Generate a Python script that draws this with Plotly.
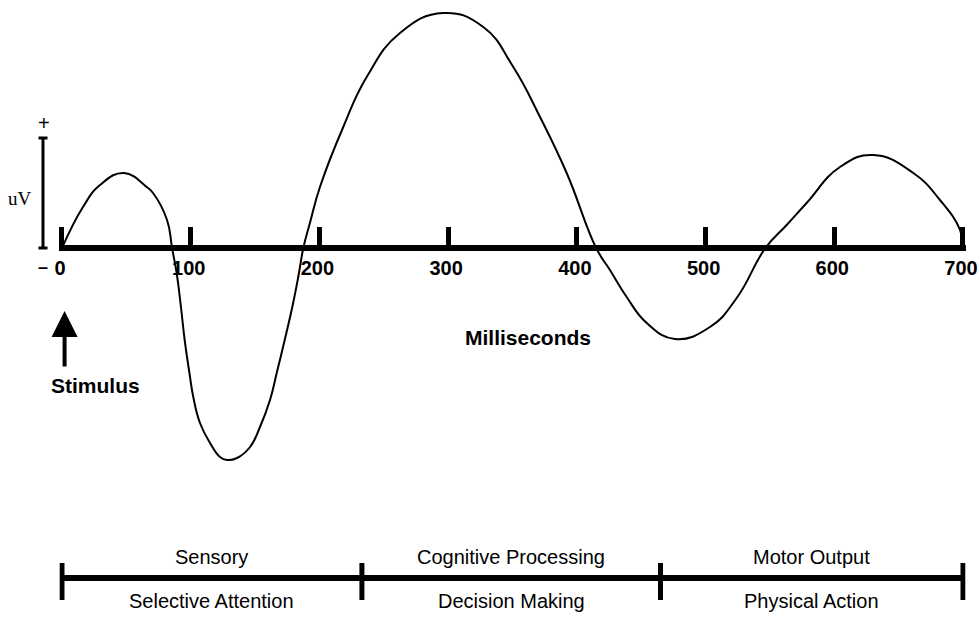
import plotly.graph_objects as go

# ---- data ----
time_ms = [0, 16.3, 29.5, 48.2, 65.8, 70.7, 81.6, 85.5, 89.3, 92.4, 95.5, 98.9, 102.0, 107.2,
           115.0, 122.7, 128.2, 136.0, 146.1, 153.8, 161.6, 167.0, 173.2, 179.1, 183.7, 187.5,
           192.6, 200.4, 218.5, 236.7, 262.6, 296.2, 327.3, 350.6, 371.4, 392.1, 415.0,
           425.7, 438.7, 454.3, 476.2, 503.4, 524.2, 546.5, 563.0, 578.5, 604.4, 630.3,
           661.4, 682.1, 697.7, 700]
amplitude = [0, 4.1, 6.3, 7.5, 6.1, 5.5, 2.8, 0, -2.7, -5.9, -9.4, -12.4, -14.9, -17.5,
             -19.5, -20.9, -21.2, -21.0, -19.9, -17.9, -15.2, -12.4, -9.1, -5.8, -2.8, 0,
             2.5, 6.1, 12.1, 17.1, 21.5, 23.5, 22.1, 18.1, 13.1, 7.5, 0,
             -2.2, -4.9, -7.5, -9.1, -7.9, -5.0, 0, 2.3, 4.5, 8.1, 9.3,
             7.5, 4.8, 1.8, 0]

tick_vals = [0, 100, 200, 300, 400, 500, 600, 700]
tick_text = ["0", "100", "200", "300", "400", "500", "600", "700"]

phase_edges = [0, 233, 465, 700]
phase_top = ["Sensory", "Cognitive Processing", "Motor Output"]
phase_bottom = ["Selective Attention", "Decision Making", "Physical Action"]

# ---- layout constants ----
W, H = 978, 618
Y_MIN, Y_MAX = -37.0, 24.8
X_MIN, X_MAX = -2.0, 702.0
PX0, PX700 = 62.0, 963.0          # pixel positions of 0 ms and 700 ms
ppu = (PX700 - PX0) / 700.0
dom = [(PX0 + X_MIN * ppu) / W, (PX0 + X_MAX * ppu) / W]
FONT = "Liberation Sans, Arial, Helvetica, sans-serif"
axis_pos = (0 - Y_MIN) / (Y_MAX - Y_MIN)

fig = go.Figure()
fig.add_trace(go.Scatter(
    x=time_ms, y=amplitude, mode="lines",
    line=dict(color="black", width=2, shape="spline", smoothing=1.3),
    cliponaxis=False, hoverinfo="skip", showlegend=False))

shapes = []
# uV scale bar
ux = 43 / W
shapes.append(dict(type="line", xref="paper", yref="y", x0=ux, x1=ux, y0=0, y1=11,
                   line=dict(color="black", width=3)))
for yy in (0, 11):
    shapes.append(dict(type="line", xref="paper", yref="y", x0=ux - 4.5 / W, x1=ux + 4.5 / W,
                       y0=yy, y1=yy, line=dict(color="black", width=3)))
# phase bar
BAR_Y = -33.0
shapes.append(dict(type="line", xref="x", yref="y", x0=phase_edges[0], x1=phase_edges[-1],
                   y0=BAR_Y, y1=BAR_Y, line=dict(color="black", width=6)))
for e in phase_edges:
    shapes.append(dict(type="line", xref="x", yref="y", x0=e, x1=e, y0=-31.5, y1=-35.2,
                       line=dict(color="black", width=5)))

ann = []
ann.append(dict(xref="paper", yref="y", x=44 / W, y=12.5, text="+", showarrow=False,
                xanchor="center", font=dict(family=FONT, size=20, color="black")))
ann.append(dict(xref="paper", yref="y", x=43 / W, y=-1.9, text="–", showarrow=False,
                xanchor="center", font=dict(family=FONT, size=18, color="black", weight="bold")))
ann.append(dict(xref="paper", yref="y", x=20 / W, y=5.0, text="uV", showarrow=False,
                xanchor="center",
                font=dict(family="Liberation Serif, Times New Roman, serif", size=19, color="black")))
ann.append(dict(xref="x", yref="y", x=361.7, y=-8.9, text="Milliseconds", showarrow=False,
                xanchor="center", font=dict(family=FONT, size=21, color="black", weight="bold")))
# stimulus arrow
ann.append(dict(xref="x", yref="y", x=2, y=-6.3, ax=0, ay=57, text="", showarrow=True,
                arrowhead=2, arrowsize=1.3, arrowwidth=4, arrowcolor="black"))
ann.append(dict(xref="x", yref="y", x=26.4, y=-13.7, text="Stimulus", showarrow=False,
                xanchor="center", font=dict(family=FONT, size=21, color="black", weight="bold")))
for i in range(len(phase_top)):
    mid = (phase_edges[i] + phase_edges[i + 1]) / 2
    ann.append(dict(xref="x", yref="y", x=mid, y=-30.9, text=phase_top[i], showarrow=False,
                    xanchor="center", font=dict(family=FONT, size=20, color="black")))
    ann.append(dict(xref="x", yref="y", x=mid, y=-35.3, text=phase_bottom[i], showarrow=False,
                    xanchor="center", font=dict(family=FONT, size=20, color="black")))

fig.update_layout(
    width=W, height=H, margin=dict(l=0, r=0, t=0, b=0, autoexpand=False),
    paper_bgcolor="white", plot_bgcolor="white",
    shapes=shapes, annotations=ann, showlegend=False,
    xaxis=dict(domain=dom, range=[X_MIN, X_MAX], tickvals=tick_vals, ticktext=tick_text,
               showline=True, linewidth=6, linecolor="black", ticks="inside", ticklen=18,
               tickwidth=5, tickcolor="black", anchor="free", position=axis_pos,
               showgrid=False, zeroline=False, ticklabeloverflow="allow", automargin=False,
               ticklabelshift=-2,
               tickfont=dict(family=FONT, size=20, color="black", weight="bold")),
    yaxis=dict(range=[Y_MIN, Y_MAX], visible=False, domain=[0, 1], automargin=False),
)
fig.write_html("out.html", config={"displayModeBar": False},
               post_script="document.body.style.margin='0';document.body.style.overflow='hidden';")
